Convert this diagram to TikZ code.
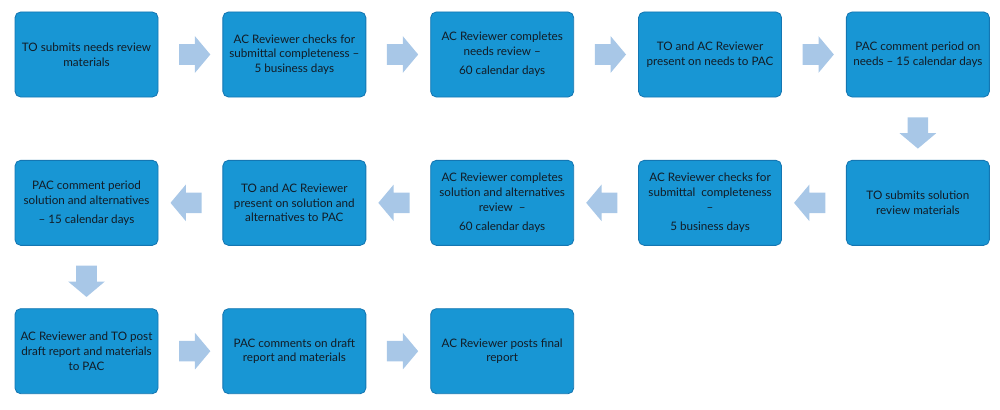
\documentclass[tikz,border=0pt]{standalone}
\usepackage{fontspec}
\setmainfont{Lato}
\usetikzlibrary{positioning,shapes.arrows,calc}
\definecolor{boxblue}{RGB}{24,150,212}
\definecolor{boxedge}{RGB}{20,118,178}
\definecolor{arrowblue}{RGB}{168,199,231}
\definecolor{txtdark}{RGB}{18,28,38}
\tikzset{
stepbox/.style={draw=boxedge,fill=boxblue,line width=0.6pt,rounded corners=4pt,
minimum width=3.575cm,minimum height=2.125cm,align=center,
inner sep=1pt,font=\fontsize{8.3}{10.5}\selectfont,text=txtdark},
blockarrow/.style={single arrow,fill=arrowblue,draw=none,inner xsep=0pt,inner ysep=0.25cm,
minimum height=0.78cm,single arrow head extend=0.2cm,
single arrow tip angle=100},
toleft/.style={blockarrow,shape border rotate=180},
todown/.style={blockarrow,rotate=-90}
}
\begin{document}
\begin{tikzpicture}[node distance=1.6cm and 1.6cm]
\useasboundingbox (0,0) rectangle (25,-10.25);
% row 1: needs review
\node[stepbox] (n1) at (2.1625,-1.3625) {TO submits needs review\\ materials};
\node[stepbox,right=of n1] (n2) {AC Reviewer checks for\\ submittal completeness --\\ 5 business days};
\node[stepbox,right=of n2] (n3) {AC Reviewer completes\\ needs review --\\[3pt] 60 calendar days};
\node[stepbox,right=of n3] (n4) {TO and AC Reviewer\\ present on needs to PAC};
\node[stepbox,right=of n4] (n5) {PAC comment period on\\ needs -- 15 calendar days};
% row 2: solution review (right to left)
\node[stepbox,below=1.5625cm of n5] (s1) {TO submits solution\\ review materials};
\node[stepbox,below=1.5625cm of n4] (s2) {AC Reviewer checks for\\ submittal\ \ completeness\\ --\\[3pt] 5 business days};
\node[stepbox,below=1.5625cm of n3] (s3) {AC Reviewer completes\\ solution and alternatives\\ review\ \ --\\[3pt] 60 calendar days};
\node[stepbox,below=1.5625cm of n2] (s4) {TO and AC Reviewer\\ present on solution and\\ alternatives to PAC};
\node[stepbox,below=1.5625cm of n1] (s5) {PAC comment period\\ solution and alternatives\\[3pt] -- 15 calendar days};
% row 3: report
\node[stepbox,below=1.5625cm of s5] (r1) {AC Reviewer and TO post\\ draft report and materials\\ to PAC};
\node[stepbox,right=of r1] (r2) {PAC comments on draft\\ report and materials};
\node[stepbox,right=of r2] (r3) {AC Reviewer posts final\\ report};
% block arrows
\node[blockarrow] (a1) at ($(n1.east)!0.5!(n2.west)$) {};
\node[blockarrow] (a2) at ($(n2.east)!0.5!(n3.west)$) {};
\node[blockarrow] (a3) at ($(n3.east)!0.5!(n4.west)$) {};
\node[blockarrow] (a4) at ($(n4.east)!0.5!(n5.west)$) {};
\node[todown] (a5) at ($(n5.south)!0.5!(s1.north)$) {};
\node[toleft] (a6) at ($(s1.west)!0.5!(s2.east)$) {};
\node[toleft] (a7) at ($(s2.west)!0.5!(s3.east)$) {};
\node[toleft] (a8) at ($(s3.west)!0.5!(s4.east)$) {};
\node[toleft] (a9) at ($(s4.west)!0.5!(s5.east)$) {};
\node[todown] (a10) at ($(s5.south)!0.5!(r1.north)$) {};
\node[blockarrow] (a11) at ($(r1.east)!0.5!(r2.west)$) {};
\node[blockarrow] (a12) at ($(r2.east)!0.5!(r3.west)$) {};
\end{tikzpicture}
\end{document}
